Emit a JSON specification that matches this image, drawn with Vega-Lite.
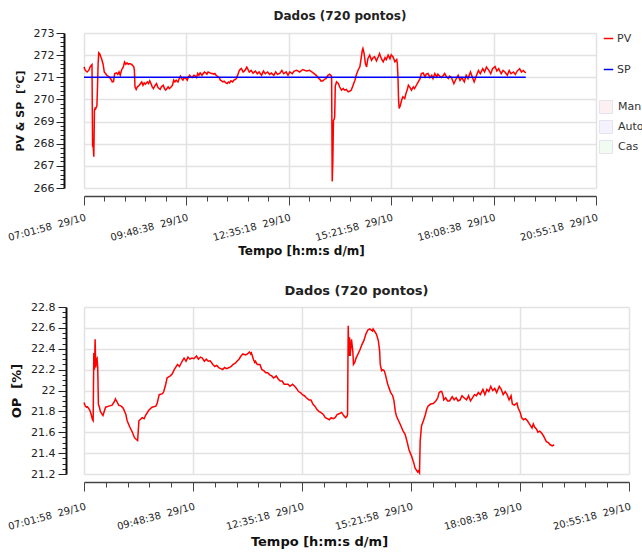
{
"$schema":"https://vega.github.io/schema/vega-lite/v6.json",
"background":"white",
"padding":{"left":6,"top":10,"right":0,"bottom":0},
"spacing":28,
"config":{
 "font":"DejaVu Sans",
 "view":{"stroke":null},
 "axis":{"labelFont":"DejaVu Sans","labelFontSize":10,"labelColor":"#222","titleFont":"DejaVu Sans","titleFontSize":12,"titleFontWeight":"bold","titleColor":"#111","domainColor":"#444","tickColor":"#444","domainWidth":1.5,"gridColor":"#e2e2e2","gridWidth":1.5},
 "title":{"font":"DejaVu Sans","fontSize":12,"fontWeight":"bold","color":"#222","anchor":"middle","frame":"group"},
 "legend":{"labelFont":"DejaVu Sans","labelFontSize":11,"labelColor":"#333","layout":{"right":{"direction":"vertical","anchor":"start","margin":25}}}
},
"resolve":{"legend":{"color":"independent","fill":"independent"}},
"vconcat":[
{
 "title":{"text":"Dados (720 pontos)","offset":4},
 "width":512,"height":155,
 "encoding":{
  "x":{"field":"t","type":"temporal","scale":{"type":"utc","nice":false,"domain":[{"year":1900,"month":10,"date":29,"hours":7,"minutes":1,"seconds":58,"utc":true},{"year":1900,"month":10,"date":29,"hours":20,"minutes":55,"seconds":18,"utc":true}]},
   "axis":{"title":"Tempo [h:m:s d/m]","titleX":217,"titlePadding":3,"offset":8,"labelAngle":-15,"labelAlign":"right","labelBaseline":"top","labelPadding":7,"labelOverlap":false,"labelBound":false,"labelFlush":false,
    "labelExpr":"(datum.value - utc(1900,9,29,7,1,58)) % 10000000 == 0 ? utcFormat(datum.value, '%H:%M:%S\u00a0 %d/%m') : ''",
    "tickSize":{"condition":{"test":"(datum.value - utc(1900,9,29,7,1,58)) % 10000000 == 0","value":9},"value":5},
    "gridOpacity":{"condition":{"test":"(datum.value - utc(1900,9,29,7,1,58)) % 10000000 == 0","value":1},"value":0},
    "values":[
     {"year":1900,"month":10,"date":29,"hours":7,"minutes":1,"seconds":58,"utc":true},
     {"year":1900,"month":10,"date":29,"hours":7,"minutes":35,"seconds":18,"utc":true},
     {"year":1900,"month":10,"date":29,"hours":8,"minutes":8,"seconds":38,"utc":true},
     {"year":1900,"month":10,"date":29,"hours":8,"minutes":41,"seconds":58,"utc":true},
     {"year":1900,"month":10,"date":29,"hours":9,"minutes":15,"seconds":18,"utc":true},
     {"year":1900,"month":10,"date":29,"hours":9,"minutes":48,"seconds":38,"utc":true},
     {"year":1900,"month":10,"date":29,"hours":10,"minutes":21,"seconds":58,"utc":true},
     {"year":1900,"month":10,"date":29,"hours":10,"minutes":55,"seconds":18,"utc":true},
     {"year":1900,"month":10,"date":29,"hours":11,"minutes":28,"seconds":38,"utc":true},
     {"year":1900,"month":10,"date":29,"hours":12,"minutes":1,"seconds":58,"utc":true},
     {"year":1900,"month":10,"date":29,"hours":12,"minutes":35,"seconds":18,"utc":true},
     {"year":1900,"month":10,"date":29,"hours":13,"minutes":8,"seconds":38,"utc":true},
     {"year":1900,"month":10,"date":29,"hours":13,"minutes":41,"seconds":58,"utc":true},
     {"year":1900,"month":10,"date":29,"hours":14,"minutes":15,"seconds":18,"utc":true},
     {"year":1900,"month":10,"date":29,"hours":14,"minutes":48,"seconds":38,"utc":true},
     {"year":1900,"month":10,"date":29,"hours":15,"minutes":21,"seconds":58,"utc":true},
     {"year":1900,"month":10,"date":29,"hours":15,"minutes":55,"seconds":18,"utc":true},
     {"year":1900,"month":10,"date":29,"hours":16,"minutes":28,"seconds":38,"utc":true},
     {"year":1900,"month":10,"date":29,"hours":17,"minutes":1,"seconds":58,"utc":true},
     {"year":1900,"month":10,"date":29,"hours":17,"minutes":35,"seconds":18,"utc":true},
     {"year":1900,"month":10,"date":29,"hours":18,"minutes":8,"seconds":38,"utc":true},
     {"year":1900,"month":10,"date":29,"hours":18,"minutes":41,"seconds":58,"utc":true},
     {"year":1900,"month":10,"date":29,"hours":19,"minutes":15,"seconds":18,"utc":true},
     {"year":1900,"month":10,"date":29,"hours":19,"minutes":48,"seconds":38,"utc":true},
     {"year":1900,"month":10,"date":29,"hours":20,"minutes":21,"seconds":58,"utc":true},
     {"year":1900,"month":10,"date":29,"hours":20,"minutes":55,"seconds":18,"utc":true}
    ]}},
  "y":{"field":"v","type":"quantitative","scale":{"domain":[266,273],"nice":false,"zero":false},
   "axis":{"title":"PV & SP\u00a0 [°C]","titleFontSize":11,"titlePadding":8,"offset":20,"labelFontSize":11,"labelPadding":2,"domainColor":"#111","domainWidth":2,"tickColor":"#222","labelOverlap":false,"labelBound":false,"labelFlush":false,
    "values":[266,266.2,266.4,266.6,266.8,267,267.2,267.4,267.6,267.8,268,268.2,268.4,268.6,268.8,269,269.2,269.4,269.6,269.8,270,270.2,270.4,270.6,270.8,271,271.2,271.4,271.6,271.8,272,272.2,272.4,272.6,272.8,273],
    "labelExpr":"abs(datum.value - round(datum.value)) < 0.001 ? format(datum.value, 'd') : ''",
    "tickSize":{"condition":{"test":"abs(datum.value - round(datum.value)) < 0.001","value":8},"value":4},
    "gridOpacity":{"condition":{"test":"abs(datum.value - round(datum.value)) < 0.001","value":1},"value":0}}}
 },
 "layer":[
  {"data":{"values":[{"mode":"Auto","t":"29/10 07:01:58","t2":"29/10 19:00:58"}],"format":{"parse":{"t":"utc:'%d/%m %H:%M:%S'","t2":"utc:'%d/%m %H:%M:%S'"}}},
   "mark":{"type":"rect","fill":"#f4f2fd"},
   "encoding":{"x2":{"field":"t2"},"y":{"value":0},"y2":{"value":"height"}}},
  {"data":{"values":[
{"t":"29/10 07:01:58","v":271.47},{"t":"29/10 07:03:58","v":271.32},{"t":"29/10 07:06:58","v":271.24},{"t":"29/10 07:09:58","v":271.32},{"t":"29/10 07:11:58","v":271.47},{"t":"29/10 07:13:58","v":271.54},{"t":"29/10 07:14:58","v":271.57},{"t":"29/10 07:15:58","v":267.9},{"t":"29/10 07:16:58","v":267.85},{"t":"29/10 07:17:58","v":267.41},{"t":"29/10 07:18:58","v":269.5},{"t":"29/10 07:19:58","v":269.6},{"t":"29/10 07:20:58","v":269.58},{"t":"29/10 07:21:58","v":269.65},{"t":"29/10 07:22:58","v":269.7},{"t":"29/10 07:23:58","v":270.57},{"t":"29/10 07:24:58","v":271.62},{"t":"29/10 07:25:58","v":272.1},{"t":"29/10 07:27:58","v":272.04},{"t":"29/10 07:28:58","v":271.95},{"t":"29/10 07:30:58","v":271.8},{"t":"29/10 07:32:58","v":271.6},{"t":"29/10 07:34:58","v":271.24},{"t":"29/10 07:36:58","v":271.17},{"t":"29/10 07:38:58","v":271.09},{"t":"29/10 07:42:58","v":271.02},{"t":"29/10 07:45:58","v":270.9},{"t":"29/10 07:47:58","v":270.79},{"t":"29/10 07:49:58","v":270.8},{"t":"29/10 07:51:58","v":271.17},{"t":"29/10 07:54:58","v":271.2},{"t":"29/10 07:56:58","v":271.13},{"t":"29/10 07:58:58","v":271.24},{"t":"29/10 08:00:58","v":271.09},{"t":"29/10 08:02:58","v":271.32},{"t":"29/10 08:05:58","v":271.47},{"t":"29/10 08:07:58","v":271.69},{"t":"29/10 08:09:58","v":271.59},{"t":"29/10 08:11:58","v":271.65},{"t":"29/10 08:13:58","v":271.59},{"t":"29/10 08:15:58","v":271.62},{"t":"29/10 08:18:58","v":271.59},{"t":"29/10 08:20:58","v":271.54},{"t":"29/10 08:22:58","v":271.47},{"t":"29/10 08:23:58","v":271.32},{"t":"29/10 08:24:58","v":270.57},{"t":"29/10 08:26:58","v":270.45},{"t":"29/10 08:28:58","v":270.57},{"t":"29/10 08:31:58","v":270.64},{"t":"29/10 08:33:58","v":270.72},{"t":"29/10 08:35:58","v":270.79},{"t":"29/10 08:37:58","v":270.64},{"t":"29/10 08:39:58","v":270.75},{"t":"29/10 08:41:58","v":270.69},{"t":"29/10 08:44:58","v":270.79},{"t":"29/10 08:46:58","v":270.72},{"t":"29/10 08:48:58","v":270.84},{"t":"29/10 08:50:58","v":270.72},{"t":"29/10 08:52:58","v":270.57},{"t":"29/10 08:54:58","v":270.49},{"t":"29/10 08:57:58","v":270.64},{"t":"29/10 08:59:58","v":270.72},{"t":"29/10 09:01:58","v":270.57},{"t":"29/10 09:03:58","v":270.49},{"t":"29/10 09:05:58","v":270.45},{"t":"29/10 09:07:58","v":270.57},{"t":"29/10 09:10:58","v":270.64},{"t":"29/10 09:12:58","v":270.49},{"t":"29/10 09:14:58","v":270.42},{"t":"29/10 09:16:58","v":270.49},{"t":"29/10 09:18:58","v":270.57},{"t":"29/10 09:20:58","v":270.49},{"t":"29/10 09:23:58","v":270.57},{"t":"29/10 09:25:58","v":270.64},{"t":"29/10 09:27:58","v":270.87},{"t":"29/10 09:29:58","v":270.79},{"t":"29/10 09:31:58","v":270.87},{"t":"29/10 09:34:58","v":270.79},{"t":"29/10 09:36:58","v":270.94},{"t":"29/10 09:38:58","v":271.05},{"t":"29/10 09:40:58","v":270.94},{"t":"29/10 09:42:58","v":270.87},{"t":"29/10 09:44:58","v":270.99},{"t":"29/10 09:47:58","v":270.94},{"t":"29/10 09:49:58","v":270.87},{"t":"29/10 09:51:58","v":271.02},{"t":"29/10 09:53:58","v":271.09},{"t":"29/10 09:55:58","v":271.02},{"t":"29/10 09:57:58","v":270.99},{"t":"29/10 10:00:58","v":271.09},{"t":"29/10 10:02:58","v":271.05},{"t":"29/10 10:04:58","v":270.99},{"t":"29/10 10:06:58","v":271.17},{"t":"29/10 10:08:58","v":271.09},{"t":"29/10 10:10:58","v":271.2},{"t":"29/10 10:13:58","v":271.09},{"t":"29/10 10:15:58","v":271.17},{"t":"29/10 10:17:58","v":271.24},{"t":"29/10 10:19:58","v":271.2},{"t":"29/10 10:21:58","v":271.14},{"t":"29/10 10:23:58","v":271.24},{"t":"29/10 10:26:58","v":271.2},{"t":"29/10 10:28:58","v":271.17},{"t":"29/10 10:30:58","v":271.17},{"t":"29/10 10:32:58","v":271.14},{"t":"29/10 10:34:58","v":271.17},{"t":"29/10 10:36:58","v":271.09},{"t":"29/10 10:39:58","v":271.02},{"t":"29/10 10:41:58","v":270.99},{"t":"29/10 10:43:58","v":270.87},{"t":"29/10 10:45:58","v":270.84},{"t":"29/10 10:47:58","v":270.79},{"t":"29/10 10:49:58","v":270.82},{"t":"29/10 10:52:58","v":270.75},{"t":"29/10 10:54:58","v":270.72},{"t":"29/10 10:56:58","v":270.79},{"t":"29/10 10:58:58","v":270.75},{"t":"29/10 11:00:58","v":270.84},{"t":"29/10 11:03:58","v":270.79},{"t":"29/10 11:05:58","v":270.87},{"t":"29/10 11:07:58","v":270.9},{"t":"29/10 11:09:58","v":270.94},{"t":"29/10 11:11:58","v":271.09},{"t":"29/10 11:14:58","v":271.32},{"t":"29/10 11:17:58","v":271.4},{"t":"29/10 11:20:58","v":271.24},{"t":"29/10 11:23:58","v":271.31},{"t":"29/10 11:26:58","v":271.46},{"t":"29/10 11:30:58","v":271.24},{"t":"29/10 11:33:58","v":271.31},{"t":"29/10 11:36:58","v":271.19},{"t":"29/10 11:40:58","v":271.28},{"t":"29/10 11:43:58","v":271.16},{"t":"29/10 11:46:58","v":271.24},{"t":"29/10 11:50:58","v":271.09},{"t":"29/10 11:53:58","v":271.28},{"t":"29/10 11:56:58","v":271.16},{"t":"29/10 12:00:58","v":271.24},{"t":"29/10 12:03:58","v":271.13},{"t":"29/10 12:06:58","v":271.19},{"t":"29/10 12:10:58","v":271.09},{"t":"29/10 12:13:58","v":271.24},{"t":"29/10 12:16:58","v":271.13},{"t":"29/10 12:20:58","v":271.19},{"t":"29/10 12:23:58","v":271.31},{"t":"29/10 12:26:58","v":271.16},{"t":"29/10 12:30:58","v":271.24},{"t":"29/10 12:33:58","v":271.09},{"t":"29/10 12:36:58","v":271.24},{"t":"29/10 12:40:58","v":271.16},{"t":"29/10 12:43:58","v":271.28},{"t":"29/10 12:47:58","v":271.32},{"t":"29/10 12:52:58","v":271.24},{"t":"29/10 12:57:58","v":271.35},{"t":"29/10 13:03:58","v":271.29},{"t":"29/10 13:08:58","v":271.32},{"t":"29/10 13:14:58","v":271.2},{"t":"29/10 13:19:58","v":271.09},{"t":"29/10 13:22:58","v":270.98},{"t":"29/10 13:25:58","v":270.9},{"t":"29/10 13:27:58","v":270.82},{"t":"29/10 13:30:58","v":270.84},{"t":"29/10 13:33:58","v":270.92},{"t":"29/10 13:35:58","v":270.94},{"t":"29/10 13:38:58","v":271.09},{"t":"29/10 13:41:58","v":271.14},{"t":"29/10 13:44:58","v":271.05},{"t":"29/10 13:45:58","v":266.3},{"t":"29/10 13:46:58","v":267.2},{"t":"29/10 13:47:58","v":269.05},{"t":"29/10 13:48:58","v":269.1},{"t":"29/10 13:49:58","v":269.2},{"t":"29/10 13:50:58","v":270.6},{"t":"29/10 13:52:58","v":270.79},{"t":"29/10 13:55:58","v":270.72},{"t":"29/10 13:57:58","v":270.57},{"t":"29/10 14:00:58","v":270.42},{"t":"29/10 14:03:58","v":270.49},{"t":"29/10 14:05:58","v":270.42},{"t":"29/10 14:08:58","v":270.45},{"t":"29/10 14:11:58","v":270.34},{"t":"29/10 14:14:58","v":270.38},{"t":"29/10 14:16:58","v":270.42},{"t":"29/10 14:19:58","v":270.64},{"t":"29/10 14:22:58","v":270.87},{"t":"29/10 14:24:58","v":271.09},{"t":"29/10 14:27:58","v":271.32},{"t":"29/10 14:30:58","v":271.47},{"t":"29/10 14:32:58","v":271.84},{"t":"29/10 14:34:58","v":272.22},{"t":"29/10 14:35:58","v":272.3},{"t":"29/10 14:37:58","v":272.07},{"t":"29/10 14:39:58","v":271.62},{"t":"29/10 14:41:58","v":271.47},{"t":"29/10 14:43:58","v":271.84},{"t":"29/10 14:46:58","v":272.0},{"t":"29/10 14:49:58","v":271.77},{"t":"29/10 14:52:58","v":271.9},{"t":"29/10 14:54:58","v":271.93},{"t":"29/10 14:57:58","v":271.74},{"t":"29/10 15:00:58","v":271.93},{"t":"29/10 15:02:58","v":272.07},{"t":"29/10 15:05:58","v":271.84},{"t":"29/10 15:08:58","v":271.7},{"t":"29/10 15:11:58","v":271.89},{"t":"29/10 15:13:58","v":271.8},{"t":"29/10 15:16:58","v":272.0},{"t":"29/10 15:19:58","v":271.84},{"t":"29/10 15:21:58","v":272.02},{"t":"29/10 15:24:58","v":271.92},{"t":"29/10 15:27:58","v":271.7},{"t":"29/10 15:30:58","v":271.8},{"t":"29/10 15:31:58","v":271.62},{"t":"29/10 15:32:58","v":271.02},{"t":"29/10 15:33:58","v":269.97},{"t":"29/10 15:34:58","v":269.59},{"t":"29/10 15:36:58","v":269.74},{"t":"29/10 15:38:58","v":269.97},{"t":"29/10 15:40:58","v":270.12},{"t":"29/10 15:43:58","v":270.04},{"t":"29/10 15:45:58","v":270.27},{"t":"29/10 15:47:58","v":270.42},{"t":"29/10 15:49:58","v":270.64},{"t":"29/10 15:51:58","v":270.57},{"t":"29/10 15:54:58","v":270.42},{"t":"29/10 15:57:58","v":270.57},{"t":"29/10 15:59:58","v":270.49},{"t":"29/10 16:02:58","v":270.64},{"t":"29/10 16:05:58","v":270.79},{"t":"29/10 16:08:58","v":270.94},{"t":"29/10 16:10:58","v":271.17},{"t":"29/10 16:13:58","v":271.2},{"t":"29/10 16:16:58","v":271.02},{"t":"29/10 16:18:58","v":271.14},{"t":"29/10 16:21:58","v":271.17},{"t":"29/10 16:24:58","v":270.99},{"t":"29/10 16:27:58","v":271.09},{"t":"29/10 16:29:58","v":270.94},{"t":"29/10 16:32:58","v":271.17},{"t":"29/10 16:35:58","v":271.02},{"t":"29/10 16:37:58","v":271.14},{"t":"29/10 16:40:58","v":271.05},{"t":"29/10 16:43:58","v":270.99},{"t":"29/10 16:46:58","v":271.09},{"t":"29/10 16:48:58","v":271.17},{"t":"29/10 16:51:58","v":271.02},{"t":"29/10 16:54:58","v":270.94},{"t":"29/10 16:56:58","v":271.05},{"t":"29/10 16:59:58","v":270.99},{"t":"29/10 17:03:58","v":270.71},{"t":"29/10 17:06:58","v":270.89},{"t":"29/10 17:10:58","v":271.09},{"t":"29/10 17:13:58","v":270.86},{"t":"29/10 17:16:58","v":270.98},{"t":"29/10 17:20:58","v":270.79},{"t":"29/10 17:23:58","v":271.09},{"t":"29/10 17:26:58","v":270.94},{"t":"29/10 17:30:58","v":271.24},{"t":"29/10 17:33:58","v":271.01},{"t":"29/10 17:36:58","v":270.79},{"t":"29/10 17:40:58","v":271.09},{"t":"29/10 17:43:58","v":271.31},{"t":"29/10 17:46:58","v":271.16},{"t":"29/10 17:50:58","v":271.39},{"t":"29/10 17:53:58","v":271.24},{"t":"29/10 17:56:58","v":271.46},{"t":"29/10 18:00:58","v":271.31},{"t":"29/10 18:03:58","v":271.16},{"t":"29/10 18:06:58","v":271.39},{"t":"29/10 18:10:58","v":271.49},{"t":"29/10 18:13:58","v":271.28},{"t":"29/10 18:16:58","v":271.39},{"t":"29/10 18:20:58","v":271.16},{"t":"29/10 18:23:58","v":271.31},{"t":"29/10 18:26:58","v":271.24},{"t":"29/10 18:30:58","v":271.09},{"t":"29/10 18:33:58","v":271.31},{"t":"29/10 18:36:58","v":271.16},{"t":"29/10 18:40:58","v":271.24},{"t":"29/10 18:43:58","v":271.13},{"t":"29/10 18:46:58","v":271.28},{"t":"29/10 18:50:58","v":271.39},{"t":"29/10 18:53:58","v":271.24},{"t":"29/10 18:56:58","v":271.31},{"t":"29/10 19:00:58","v":271.19}
   ],"format":{"parse":{"t":"utc:'%d/%m %H:%M:%S'"}}},
   "mark":{"type":"line","strokeWidth":1.5},
   "encoding":{
    "color":{"datum":"PV","type":"nominal","scale":{"domain":["PV","SP"],"range":["#ff0000","#0000ff"]},
     "legend":{"orient":"right","title":null,"symbolType":"stroke","symbolSize":90,"symbolStrokeWidth":1.5,"symbolOffset":4,"rowPadding":19,"labelOffset":3,"offset":3,"padding":0}}
   }},
  {"data":{"values":[{"t":"29/10 07:01:58","v":271},{"t":"29/10 19:00:58","v":271}],"format":{"parse":{"t":"utc:'%d/%m %H:%M:%S'"}}},
   "mark":{"type":"line","strokeWidth":1.5},
   "encoding":{"color":{"datum":"SP","type":"nominal"}}},
  {"data":{"values":[{"mode":"Man","t":"29/10 07:01:58"},{"mode":"Auto","t":"29/10 07:01:58"},{"mode":"Cas","t":"29/10 07:01:58"}],"format":{"parse":{"t":"utc:'%d/%m %H:%M:%S'"}}},
   "mark":{"type":"rect"},
   "encoding":{
    "x2":{"field":"t"},"y":{"value":0},"y2":{"value":"height"},
    "fill":{"field":"mode","type":"nominal","scale":{"domain":["Man","Auto","Cas"],"range":["#fdf0f3","#f4f2fd","#f1fbf1"]},
     "legend":{"orient":"right","title":null,"symbolType":"square","symbolSize":169,"rowPadding":2,"labelOffset":5,"offset":3,"symbolStrokeColor":"#e6e2f0","symbolStrokeWidth":1,"padding":0}}
   }}
 ]
},
{
 "title":{"text":"Dados (720 pontos)","offset":3,"fontSize":13},
 "width":545,"height":167,
 "encoding":{
  "x":{"field":"t","type":"temporal","scale":{"type":"utc","nice":false,"domain":[{"year":1900,"month":10,"date":29,"hours":7,"minutes":1,"seconds":58,"utc":true},{"year":1900,"month":10,"date":29,"hours":20,"minutes":55,"seconds":18,"utc":true}]},
   "axis":{"title":"Tempo [h:m:s d/m]","titleFontSize":13,"titleX":235,"titlePadding":4,"offset":8,"labelAngle":-15,"labelAlign":"right","labelBaseline":"top","labelPadding":10,"labelOverlap":false,"labelBound":false,"labelFlush":false,
    "labelExpr":"(datum.value - utc(1900,9,29,7,1,58)) % 10000000 == 0 ? utcFormat(datum.value, '%H:%M:%S\u00a0 %d/%m') : ''",
    "tickSize":{"condition":{"test":"(datum.value - utc(1900,9,29,7,1,58)) % 10000000 == 0","value":9},"value":5},
    "gridOpacity":{"condition":{"test":"(datum.value - utc(1900,9,29,7,1,58)) % 10000000 == 0","value":1},"value":0},
    "values":[
     {"year":1900,"month":10,"date":29,"hours":7,"minutes":1,"seconds":58,"utc":true},
     {"year":1900,"month":10,"date":29,"hours":7,"minutes":35,"seconds":18,"utc":true},
     {"year":1900,"month":10,"date":29,"hours":8,"minutes":8,"seconds":38,"utc":true},
     {"year":1900,"month":10,"date":29,"hours":8,"minutes":41,"seconds":58,"utc":true},
     {"year":1900,"month":10,"date":29,"hours":9,"minutes":15,"seconds":18,"utc":true},
     {"year":1900,"month":10,"date":29,"hours":9,"minutes":48,"seconds":38,"utc":true},
     {"year":1900,"month":10,"date":29,"hours":10,"minutes":21,"seconds":58,"utc":true},
     {"year":1900,"month":10,"date":29,"hours":10,"minutes":55,"seconds":18,"utc":true},
     {"year":1900,"month":10,"date":29,"hours":11,"minutes":28,"seconds":38,"utc":true},
     {"year":1900,"month":10,"date":29,"hours":12,"minutes":1,"seconds":58,"utc":true},
     {"year":1900,"month":10,"date":29,"hours":12,"minutes":35,"seconds":18,"utc":true},
     {"year":1900,"month":10,"date":29,"hours":13,"minutes":8,"seconds":38,"utc":true},
     {"year":1900,"month":10,"date":29,"hours":13,"minutes":41,"seconds":58,"utc":true},
     {"year":1900,"month":10,"date":29,"hours":14,"minutes":15,"seconds":18,"utc":true},
     {"year":1900,"month":10,"date":29,"hours":14,"minutes":48,"seconds":38,"utc":true},
     {"year":1900,"month":10,"date":29,"hours":15,"minutes":21,"seconds":58,"utc":true},
     {"year":1900,"month":10,"date":29,"hours":15,"minutes":55,"seconds":18,"utc":true},
     {"year":1900,"month":10,"date":29,"hours":16,"minutes":28,"seconds":38,"utc":true},
     {"year":1900,"month":10,"date":29,"hours":17,"minutes":1,"seconds":58,"utc":true},
     {"year":1900,"month":10,"date":29,"hours":17,"minutes":35,"seconds":18,"utc":true},
     {"year":1900,"month":10,"date":29,"hours":18,"minutes":8,"seconds":38,"utc":true},
     {"year":1900,"month":10,"date":29,"hours":18,"minutes":41,"seconds":58,"utc":true},
     {"year":1900,"month":10,"date":29,"hours":19,"minutes":15,"seconds":18,"utc":true},
     {"year":1900,"month":10,"date":29,"hours":19,"minutes":48,"seconds":38,"utc":true},
     {"year":1900,"month":10,"date":29,"hours":20,"minutes":21,"seconds":58,"utc":true},
     {"year":1900,"month":10,"date":29,"hours":20,"minutes":55,"seconds":18,"utc":true}
    ]}}
 },
 "layer":[
  {"data":{"values":[{"mode":"Auto","t":"29/10 07:01:58","t2":"29/10 19:00:58"}],"format":{"parse":{"t":"utc:'%d/%m %H:%M:%S'","t2":"utc:'%d/%m %H:%M:%S'"}}},
   "mark":{"type":"rect","fill":"#f4f2fd"},
   "encoding":{"x2":{"field":"t2"},"y":{"value":0},"y2":{"value":"height"}}},
  {"data":{"values":[
{"t":"29/10 07:01:58","v":21.885},{"t":"29/10 07:03:58","v":21.85},{"t":"29/10 07:05:58","v":21.84},{"t":"29/10 07:06:58","v":21.845},{"t":"29/10 07:08:58","v":21.83},{"t":"29/10 07:10:58","v":21.81},{"t":"29/10 07:12:58","v":21.77},{"t":"29/10 07:14:58","v":21.72},{"t":"29/10 07:15:58","v":21.71},{"t":"29/10 07:16:58","v":22.36},{"t":"29/10 07:17:58","v":22.2},{"t":"29/10 07:18:58","v":22.49},{"t":"29/10 07:19:58","v":22.22},{"t":"29/10 07:20:58","v":22.3},{"t":"29/10 07:21:58","v":22.31},{"t":"29/10 07:22:58","v":22.22},{"t":"29/10 07:23:58","v":21.87},{"t":"29/10 07:25:58","v":21.83},{"t":"29/10 07:26:58","v":21.8},{"t":"29/10 07:30:58","v":21.76},{"t":"29/10 07:34:58","v":21.84},{"t":"29/10 07:39:58","v":21.85},{"t":"29/10 07:44:58","v":21.86},{"t":"29/10 07:48:58","v":21.9},{"t":"29/10 07:49:58","v":21.92},{"t":"29/10 07:52:58","v":21.885},{"t":"29/10 07:54:58","v":21.86},{"t":"29/10 07:58:58","v":21.85},{"t":"29/10 08:01:58","v":21.83},{"t":"29/10 08:05:58","v":21.77},{"t":"29/10 08:07:58","v":21.71},{"t":"29/10 08:11:58","v":21.65},{"t":"29/10 08:15:58","v":21.6},{"t":"29/10 08:18:58","v":21.55},{"t":"29/10 08:21:58","v":21.53},{"t":"29/10 08:23:58","v":21.52},{"t":"29/10 08:25:58","v":21.71},{"t":"29/10 08:30:58","v":21.74},{"t":"29/10 08:33:58","v":21.73},{"t":"29/10 08:35:58","v":21.76},{"t":"29/10 08:40:58","v":21.81},{"t":"29/10 08:45:58","v":21.84},{"t":"29/10 08:51:58","v":21.85},{"t":"29/10 08:53:58","v":21.88},{"t":"29/10 08:56:58","v":21.96},{"t":"29/10 09:01:58","v":21.97},{"t":"29/10 09:03:58","v":21.99},{"t":"29/10 09:06:58","v":22.06},{"t":"29/10 09:08:58","v":22.12},{"t":"29/10 09:13:58","v":22.14},{"t":"29/10 09:16:58","v":22.16},{"t":"29/10 09:19:58","v":22.2},{"t":"29/10 09:24:58","v":22.25},{"t":"29/10 09:27:58","v":22.23},{"t":"29/10 09:31:58","v":22.28},{"t":"29/10 09:34:58","v":22.31},{"t":"29/10 09:37:58","v":22.28},{"t":"29/10 09:40:58","v":22.32},{"t":"29/10 09:43:58","v":22.3},{"t":"29/10 09:46:58","v":22.31},{"t":"29/10 09:49:58","v":22.305},{"t":"29/10 09:53:58","v":22.33},{"t":"29/10 09:56:58","v":22.3},{"t":"29/10 09:59:58","v":22.32},{"t":"29/10 10:02:58","v":22.31},{"t":"29/10 10:05:58","v":22.28},{"t":"29/10 10:08:58","v":22.3},{"t":"29/10 10:11:58","v":22.28},{"t":"29/10 10:14:58","v":22.285},{"t":"29/10 10:18:58","v":22.25},{"t":"29/10 10:21:58","v":22.23},{"t":"29/10 10:24:58","v":22.24},{"t":"29/10 10:27:58","v":22.22},{"t":"29/10 10:30:58","v":22.21},{"t":"29/10 10:33:58","v":22.2},{"t":"29/10 10:36:58","v":22.22},{"t":"29/10 10:39:58","v":22.21},{"t":"29/10 10:43:58","v":22.22},{"t":"29/10 10:46:58","v":22.23},{"t":"29/10 10:49:58","v":22.25},{"t":"29/10 10:52:58","v":22.26},{"t":"29/10 10:55:58","v":22.28},{"t":"29/10 10:58:58","v":22.3},{"t":"29/10 11:01:58","v":22.33},{"t":"29/10 11:04:58","v":22.35},{"t":"29/10 11:08:58","v":22.34},{"t":"29/10 11:11:58","v":22.35},{"t":"29/10 11:14:58","v":22.37},{"t":"29/10 11:16:58","v":22.35},{"t":"29/10 11:17:58","v":22.36},{"t":"29/10 11:18:58","v":22.34},{"t":"29/10 11:20:58","v":22.3},{"t":"29/10 11:22:58","v":22.27},{"t":"29/10 11:23:58","v":22.28},{"t":"29/10 11:26:58","v":22.25},{"t":"29/10 11:30:58","v":22.25},{"t":"29/10 11:33:58","v":22.2},{"t":"29/10 11:36:58","v":22.19},{"t":"29/10 11:39:58","v":22.17},{"t":"29/10 11:42:58","v":22.17},{"t":"29/10 11:45:58","v":22.15},{"t":"29/10 11:48:58","v":22.14},{"t":"29/10 11:51:58","v":22.12},{"t":"29/10 11:55:58","v":22.14},{"t":"29/10 11:58:58","v":22.11},{"t":"29/10 12:01:58","v":22.09},{"t":"29/10 12:04:58","v":22.09},{"t":"29/10 12:07:58","v":22.06},{"t":"29/10 12:10:58","v":22.06},{"t":"29/10 12:13:58","v":22.06},{"t":"29/10 12:16:58","v":22.04},{"t":"29/10 12:20:58","v":22.06},{"t":"29/10 12:23:58","v":22.04},{"t":"29/10 12:26:58","v":22.02},{"t":"29/10 12:29:58","v":21.99},{"t":"29/10 12:32:58","v":21.98},{"t":"29/10 12:35:58","v":21.96},{"t":"29/10 12:38:58","v":21.95},{"t":"29/10 12:41:58","v":21.93},{"t":"29/10 12:45:58","v":21.91},{"t":"29/10 12:48:58","v":21.91},{"t":"29/10 12:51:58","v":21.87},{"t":"29/10 12:54:58","v":21.85},{"t":"29/10 12:57:58","v":21.82},{"t":"29/10 13:00:58","v":21.8},{"t":"29/10 13:03:58","v":21.79},{"t":"29/10 13:07:58","v":21.77},{"t":"29/10 13:10:58","v":21.74},{"t":"29/10 13:13:58","v":21.73},{"t":"29/10 13:16:58","v":21.72},{"t":"29/10 13:19:58","v":21.74},{"t":"29/10 13:22:58","v":21.73},{"t":"29/10 13:25:58","v":21.74},{"t":"29/10 13:28:58","v":21.77},{"t":"29/10 13:32:58","v":21.78},{"t":"29/10 13:35:58","v":21.79},{"t":"29/10 13:38:58","v":21.76},{"t":"29/10 13:41:58","v":21.74},{"t":"29/10 13:43:58","v":21.75},{"t":"29/10 13:44:58","v":21.77},{"t":"29/10 13:45:58","v":22.62},{"t":"29/10 13:46:58","v":22.33},{"t":"29/10 13:47:58","v":22.51},{"t":"29/10 13:48:58","v":22.33},{"t":"29/10 13:50:58","v":22.49},{"t":"29/10 13:52:58","v":22.38},{"t":"29/10 13:53:58","v":22.25},{"t":"29/10 13:55:58","v":22.27},{"t":"29/10 13:57:58","v":22.31},{"t":"29/10 14:00:58","v":22.35},{"t":"29/10 14:03:58","v":22.39},{"t":"29/10 14:06:58","v":22.44},{"t":"29/10 14:09:58","v":22.48},{"t":"29/10 14:12:58","v":22.54},{"t":"29/10 14:15:58","v":22.58},{"t":"29/10 14:18:58","v":22.59},{"t":"29/10 14:22:58","v":22.57},{"t":"29/10 14:23:58","v":22.59},{"t":"29/10 14:25:58","v":22.57},{"t":"29/10 14:28:58","v":22.54},{"t":"29/10 14:31:58","v":22.48},{"t":"29/10 14:33:58","v":22.38},{"t":"29/10 14:34:58","v":22.25},{"t":"29/10 14:36:58","v":22.19},{"t":"29/10 14:38:58","v":22.2},{"t":"29/10 14:40:58","v":22.19},{"t":"29/10 14:42:58","v":22.15},{"t":"29/10 14:45:58","v":22.07},{"t":"29/10 14:47:58","v":22.03},{"t":"29/10 14:50:58","v":21.98},{"t":"29/10 14:53:58","v":21.95},{"t":"29/10 14:55:58","v":21.9},{"t":"29/10 14:57:58","v":21.8},{"t":"29/10 14:59:58","v":21.75},{"t":"29/10 15:02:58","v":21.71},{"t":"29/10 15:05:58","v":21.67},{"t":"29/10 15:09:58","v":21.61},{"t":"29/10 15:12:58","v":21.58},{"t":"29/10 15:15:58","v":21.51},{"t":"29/10 15:18:58","v":21.43},{"t":"29/10 15:20:58","v":21.4},{"t":"29/10 15:22:58","v":21.37},{"t":"29/10 15:24:58","v":21.33},{"t":"29/10 15:26:58","v":21.29},{"t":"29/10 15:27:58","v":21.26},{"t":"29/10 15:29:58","v":21.24},{"t":"29/10 15:31:58","v":21.22},{"t":"29/10 15:32:58","v":21.23},{"t":"29/10 15:34:58","v":21.21},{"t":"29/10 15:35:58","v":21.51},{"t":"29/10 15:37:58","v":21.66},{"t":"29/10 15:40:58","v":21.71},{"t":"29/10 15:43:58","v":21.77},{"t":"29/10 15:45:58","v":21.82},{"t":"29/10 15:47:58","v":21.85},{"t":"29/10 15:51:58","v":21.87},{"t":"29/10 15:55:58","v":21.875},{"t":"29/10 15:59:58","v":21.9},{"t":"29/10 16:02:58","v":21.93},{"t":"29/10 16:04:58","v":21.98},{"t":"29/10 16:06:58","v":21.99},{"t":"29/10 16:08:58","v":21.99},{"t":"29/10 16:10:58","v":21.95},{"t":"29/10 16:11:58","v":21.91},{"t":"29/10 16:14:58","v":21.93},{"t":"29/10 16:17:58","v":21.9},{"t":"29/10 16:20:58","v":21.9},{"t":"29/10 16:24:58","v":21.94},{"t":"29/10 16:27:58","v":21.91},{"t":"29/10 16:30:58","v":21.93},{"t":"29/10 16:33:58","v":21.9},{"t":"29/10 16:36:58","v":21.91},{"t":"29/10 16:39:58","v":21.95},{"t":"29/10 16:42:58","v":21.93},{"t":"29/10 16:46:58","v":21.91},{"t":"29/10 16:49:58","v":21.95},{"t":"29/10 16:52:58","v":21.9},{"t":"29/10 16:55:58","v":21.93},{"t":"29/10 16:58:58","v":21.96},{"t":"29/10 17:01:58","v":21.95},{"t":"29/10 17:04:58","v":21.98},{"t":"29/10 17:07:58","v":21.96},{"t":"29/10 17:11:58","v":22.01},{"t":"29/10 17:14:58","v":21.96},{"t":"29/10 17:17:58","v":22.01},{"t":"29/10 17:20:58","v":21.99},{"t":"29/10 17:23:58","v":22.04},{"t":"29/10 17:26:58","v":22.0},{"t":"29/10 17:29:58","v":22.02},{"t":"29/10 17:32:58","v":21.98},{"t":"29/10 17:36:58","v":22.04},{"t":"29/10 17:39:58","v":22.01},{"t":"29/10 17:42:58","v":21.96},{"t":"29/10 17:45:58","v":21.99},{"t":"29/10 17:48:58","v":21.96},{"t":"29/10 17:51:58","v":21.91},{"t":"29/10 17:54:58","v":21.95},{"t":"29/10 17:56:58","v":21.87},{"t":"29/10 17:59:58","v":21.86},{"t":"29/10 18:03:58","v":21.88},{"t":"29/10 18:05:58","v":21.83},{"t":"29/10 18:08:58","v":21.79},{"t":"29/10 18:10:58","v":21.74},{"t":"29/10 18:13:58","v":21.72},{"t":"29/10 18:16:58","v":21.73},{"t":"29/10 18:19:58","v":21.71},{"t":"29/10 18:23:58","v":21.67},{"t":"29/10 18:26:58","v":21.64},{"t":"29/10 18:28:58","v":21.68},{"t":"29/10 18:30:58","v":21.65},{"t":"29/10 18:33:58","v":21.63},{"t":"29/10 18:35:58","v":21.6},{"t":"29/10 18:38:58","v":21.61},{"t":"29/10 18:41:58","v":21.59},{"t":"29/10 18:44:58","v":21.56},{"t":"29/10 18:48:58","v":21.51},{"t":"29/10 18:51:58","v":21.5},{"t":"29/10 18:54:58","v":21.48},{"t":"29/10 18:57:58","v":21.47},{"t":"29/10 19:00:58","v":21.48}
   ],"format":{"parse":{"t":"utc:'%d/%m %H:%M:%S'"}}},
   "mark":{"type":"line","color":"#ff0000","strokeWidth":1.5},
   "encoding":{
    "y":{"field":"v","type":"quantitative","scale":{"domain":[21.2,22.8],"nice":false,"zero":false},
     "axis":{"title":"OP\u00a0 [%]","titleFontSize":13,"titlePadding":7,"offset":18,"labelFontSize":11,"labelPadding":3,"domainColor":"#111","domainWidth":2,"tickColor":"#222","labelOverlap":false,"labelBound":false,"labelFlush":false,
      "values":[21.2,21.25,21.3,21.35,21.4,21.45,21.5,21.55,21.6,21.65,21.7,21.75,21.8,21.85,21.9,21.95,22,22.05,22.1,22.15,22.2,22.25,22.3,22.35,22.4,22.45,22.5,22.55,22.6,22.65,22.7,22.75,22.8],
      "labelExpr":"abs(datum.value*5 - round(datum.value*5)) < 0.001 ? format(datum.value, '.3~g') : ''",
      "tickSize":{"condition":{"test":"abs(datum.value*5 - round(datum.value*5)) < 0.001","value":8},"value":4},
      "gridOpacity":{"condition":{"test":"abs(datum.value*5 - round(datum.value*5)) < 0.001","value":1},"value":0}}}
   }}
 ]
}
]
}
